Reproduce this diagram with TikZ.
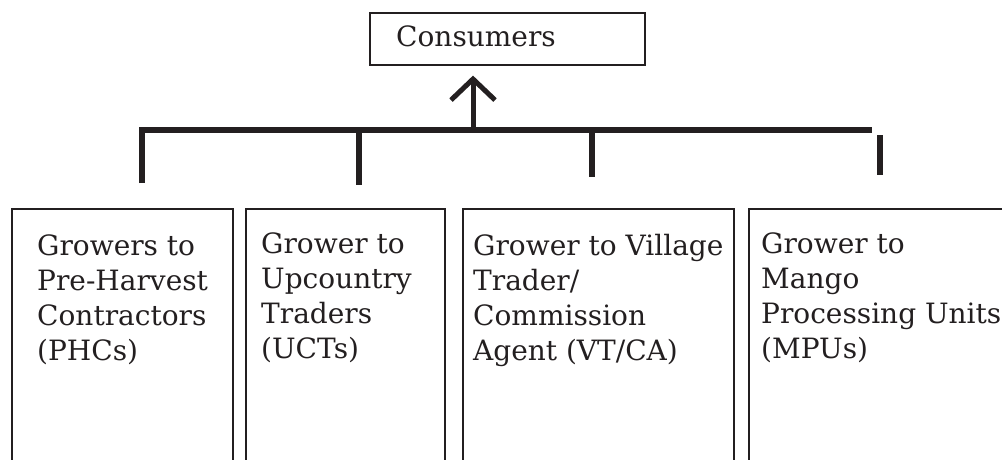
\documentclass[tikz,border=0pt]{standalone}
\usepackage{fontspec}
\setmainfont{DejaVu Serif}
\usetikzlibrary{arrows.meta}
\definecolor{ink}{HTML}{231F20}
\begin{document}
\begin{tikzpicture}[x=1pt,y=-1pt,
  box/.style={draw=ink, line width=1.6pt, rectangle, inner sep=0pt, anchor=north west},
  lbl/.style={text=ink, inner sep=0pt, anchor=base west, align=left,
    font=\fontsize{28}{35}\selectfont},
  link/.style={draw=ink, line width=5.5pt, line join=miter},
]
\useasboundingbox (0,0) rectangle (1002,459);

% top box
\node[box, minimum width=275pt, minimum height=52pt] (cons) at (369,12) {};
\node[lbl] (constext) at (396,46) {Consumers};

% lower boxes (they run past the bottom edge)
\node[box, minimum width=221pt, minimum height=280pt] (b1) at (11,208) {};
\node[box, minimum width=199pt, minimum height=280pt] (b2) at (245,208) {};
\node[box, minimum width=271pt, minimum height=280pt] (b3) at (462,208) {};
\node[box, minimum width=290pt, minimum height=280pt] (b4) at (748,208) {};

% multi-line labels, placed by the baseline of their last line
\node[lbl] (t1) at (37,360) {Growers to\\Pre-Harvest\\Contractors\\(PHCs)};
\node[lbl] (t2) at (261,358) {Grower to\\Upcountry\\Traders\\(UCTs)};
\node[lbl] (t3) at (473,360) {Grower to Village\\Trader/\\Commission\\Agent (VT/CA)};
\node[lbl] (t4) at (761,358) {Grower to\\Mango\\Processing Units\\(MPUs)};

% collecting bar and drops
\coordinate (bl) at (139,130);
\coordinate (br) at (872,130);
\coordinate (d1) at (142,183);
\coordinate (d2) at (359,185);
\coordinate (d3) at (592,177);
\coordinate (d4top) at (880,135);
\coordinate (d4) at (880,175);
\coordinate (hub) at (473,130);

\draw[link] (d1) -- (d1 |- bl) -- (br);
\draw[link] (d2 |- bl) -- (d2);
\draw[link] (d3 |- bl) -- (d3);
\draw[link] (d4top) -- (d4);

% arrow up to the consumers box
\draw[draw=ink, line width=5pt, -{Straight Barb[length=21pt, width=44pt]}]
  (hub) -- ([yshift=-10pt]hub |- cons.south);
\end{tikzpicture}
\end{document}
